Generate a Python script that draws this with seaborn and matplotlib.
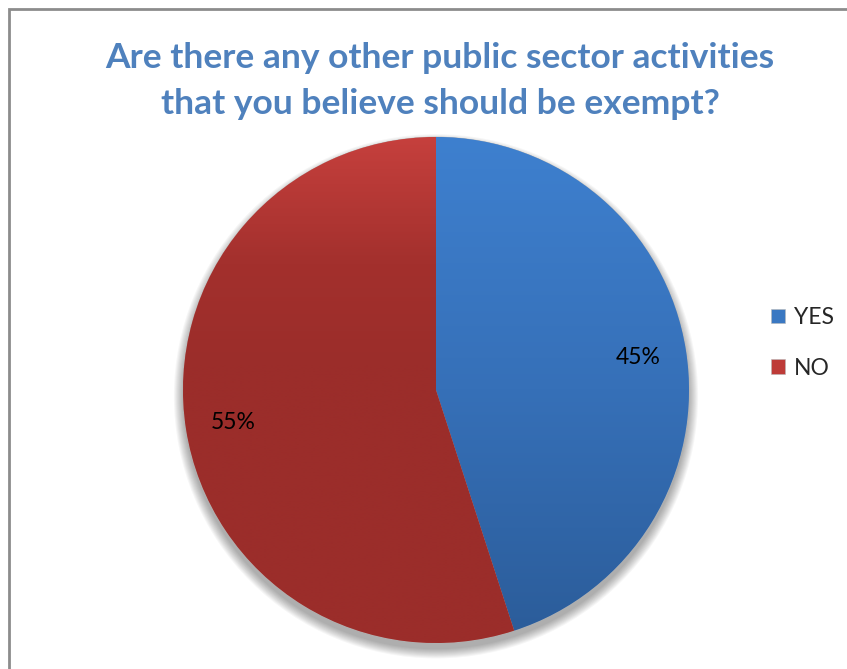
import numpy as np
import matplotlib
matplotlib.use("Agg")
import matplotlib.pyplot as plt
from matplotlib.patches import Rectangle, Circle
from matplotlib.colors import LinearSegmentedColormap
import seaborn as sns

sns.set_theme(style="white")
plt.rcParams["font.family"] = ["Lato", "DejaVu Sans"]

# Survey answers
answers = ["YES", "NO"]
shares = [45, 55]
title = "Are there any other public sector activities\nthat you believe should be exempt?"

# Vertical gradients (top -> bottom) for each slice
gradients = {
    "YES": [(0.0, "#3E80CF"), (0.5, "#3670B8"), (1.0, "#2B5C99")],
    "NO": [(0.0, "#C6403D"), (0.25, "#A3302D"), (0.45, "#9B2D2A"), (1.0, "#9B2D2A")],
}
base_colors = ["#3A78C2", "#BE3B38"]

W, H = 847, 669
fig = plt.figure(figsize=(W / 100, H / 100), dpi=100)
fig.patch.set_facecolor("white")

# Chart frame
frame = Rectangle((9 / W, -0.1), 1.0, (H - 9) / H + 0.1, transform=fig.transFigure,
                  fill=False, edgecolor="#8C8C8C", linewidth=2.0)
fig.add_artist(frame)

# Pie axes: centre (436, 390) px, radius 253 px
cx, cy, r = 436, 390, 253
lim = 1.15
size = 2 * r * lim
ax = fig.add_axes([(cx - size / 2) / W, (H - cy - size / 2) / H, size / W, size / H])

# Soft drop shadow under the pie
for k in range(10):
    ax.add_patch(Circle((0.0, -0.025), 1.0 + 0.004 * k, facecolor="black",
                        alpha=0.035, edgecolor="none", zorder=0))

wedges, texts, autotexts = ax.pie(
    shares, labels=None, colors=base_colors, startangle=90, counterclock=False,
    autopct="%1.0f%%", pctdistance=0.81, radius=1.0,
    wedgeprops=dict(linewidth=0.4, edgecolor="#B8B8B8"),
    textprops=dict(fontsize=16.5, color="black"),
)

for w, name in zip(wedges, answers):
    cmap = LinearSegmentedColormap.from_list(name, gradients[name])
    grad = np.linspace(0, 1, 256).reshape(-1, 1)
    im = ax.imshow(grad, cmap=cmap, extent=(-1, 1, -1, 1), origin="upper",
                   aspect="auto", zorder=1.5, interpolation="bilinear")
    im.set_clip_path(w)
for t in autotexts:
    t.set_zorder(3)

ax.set_xlim(-lim, lim)
ax.set_ylim(-lim, lim)
ax.set_aspect("equal")
ax.axis("off")

fig.text(440 / W, 1 - 81 / H, title, ha="center", va="center", fontsize=25.5,
         fontweight="bold", color="#4F81BD", linespacing=1.5)

fig.legend(wedges, answers, loc="center left", bbox_to_anchor=(750 / W, 1 - 343 / H),
           frameon=False, fontsize=16.5, handlelength=0.62, handleheight=0.62,
           handletextpad=0.4, labelspacing=1.3)

fig.savefig("out.png", dpi=100, facecolor="white")
